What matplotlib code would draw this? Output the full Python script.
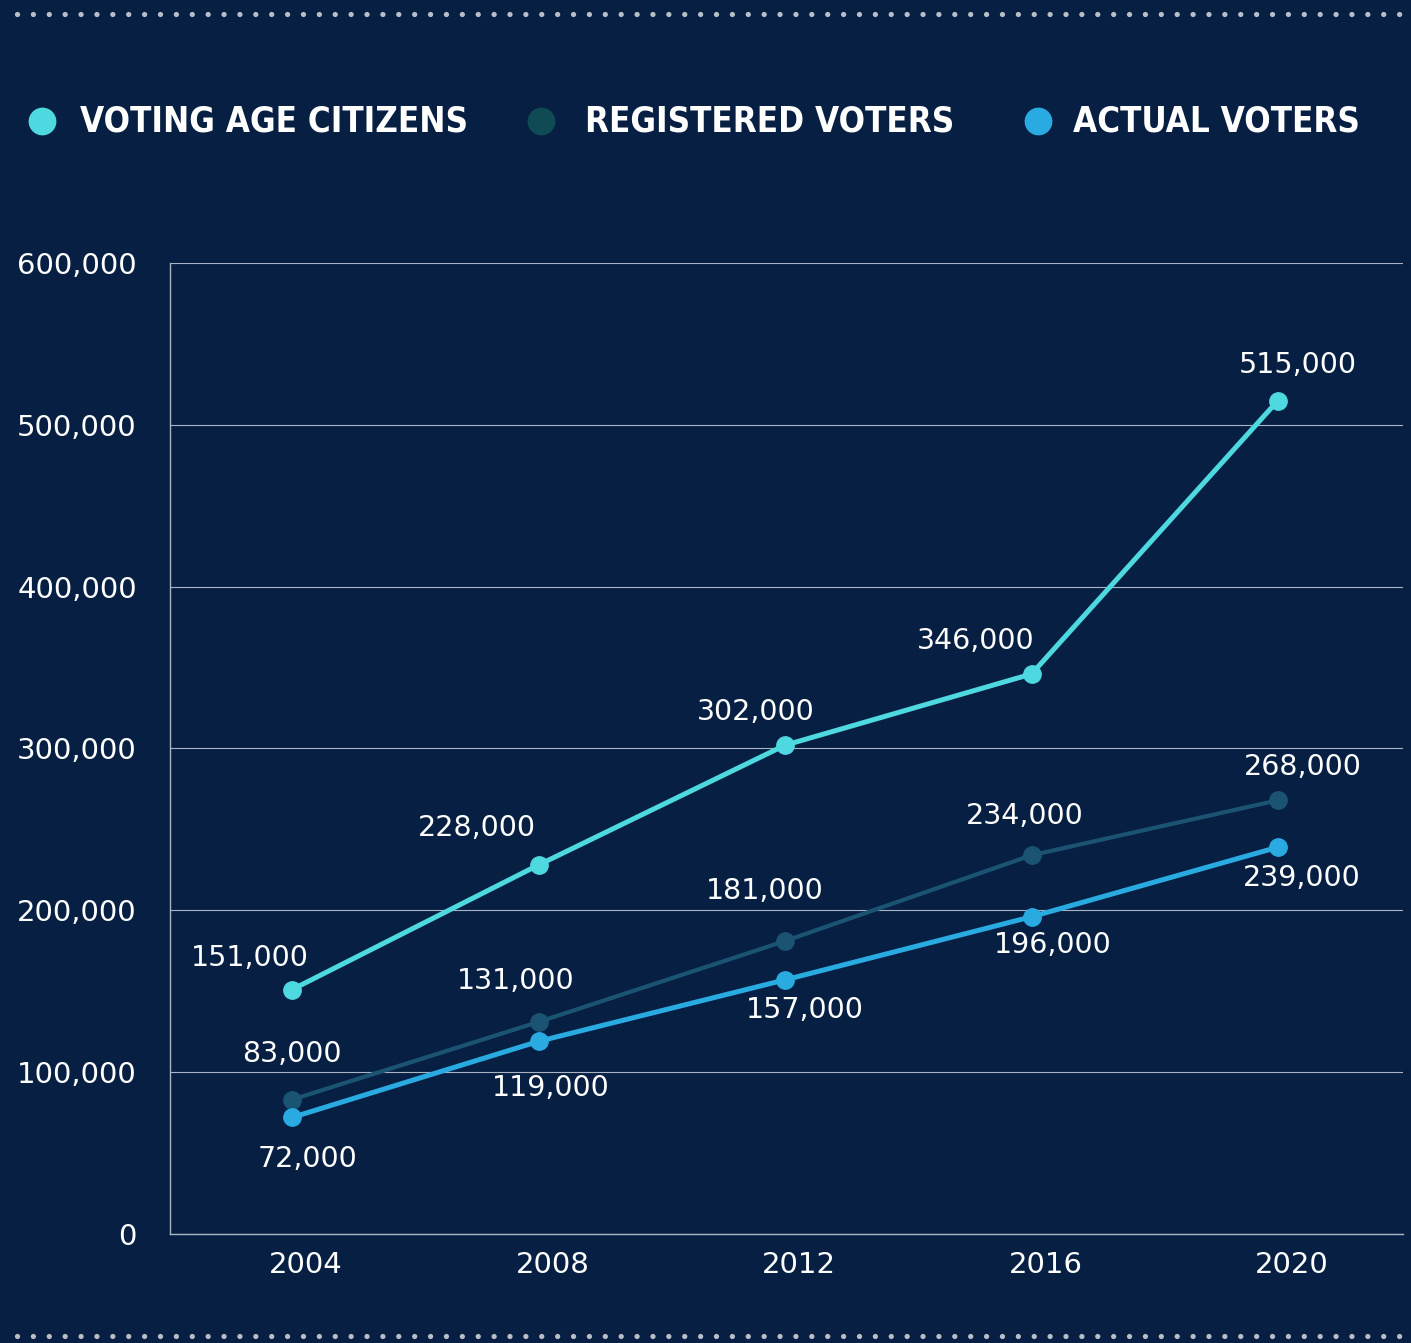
import matplotlib

matplotlib.use("Agg")
import matplotlib.pyplot as plt
import matplotlib.transforms as mtransforms
import numpy as np
from matplotlib.lines import Line2D
from matplotlib.ticker import FuncFormatter

years = ["2004", "2008", "2012", "2016", "2020"]
series_names = ["VOTING AGE CITIZENS", "REGISTERED VOTERS", "ACTUAL VOTERS"]
voting_age = [151000, 228000, 302000, 346000, 515000]
registered = [83000, 131000, 181000, 234000, 268000]
actual = [72000, 119000, 157000, 196000, 239000]

BG = "#061f42"
COLORS = ["#4ed8e0", "#1a5472", "#29abe2"]
LEGEND_COLORS = ["#4ed8e0", "#0f4a55", "#29abe2"]
GRID = "#aab4c4"

# label offsets (pixels) relative to each point
label_offsets = [
    [(-42, 32), (-62, 37), (-29, 33), (-56, 33), (20, 36)],
    [(0, 46), (-23, 41), (-20, 50), (-7, 39), (25, 33)],
    [(15, -42), (12, -47), (20, -30), (21, -28), (24, -31)],
]
# legend entry positions (figure fraction): marker x, text x
legend_x = [(0.0298, 0.0567), (0.3834, 0.4146), (0.7356, 0.7604)]
legend_y = 0.9099

fig = plt.figure(figsize=(14.11, 13.43), dpi=100, facecolor=BG)
ax = fig.add_axes([0.1205, 0.0812, 0.8738, 0.723])
ax.set_facecolor(BG)

x = np.arange(len(years))
all_series = [voting_age, registered, actual]
widths = [3.6, 3.0, 3.6]
for vals, col, lw, offs in zip(all_series, COLORS, widths, label_offsets):
    ax.plot(x, vals, color=col, lw=lw, marker="o", markersize=12.5, zorder=3)
    for xi, v, (dx, dy) in zip(x, vals, offs):
        ax.annotate(f"{v:,}", (xi, v), xytext=(dx, dy), textcoords="offset pixels",
                    ha="center", va="center", color="white", fontsize=20.5)

ax.set_xlim(-0.495, 4.507)
ax.set_ylim(0, 600000)
ax.set_yticks(np.arange(0, 600001, 100000))
ax.yaxis.set_major_formatter(FuncFormatter(lambda v, p: f"{int(v):,}"))
ax.set_xticks(x)
ax.set_xticklabels(years)
ax.grid(axis="y", color=GRID, lw=0.8)
ax.set_axisbelow(True)
ax.tick_params(length=0, colors="white", labelsize=21)
ax.tick_params(axis="y", pad=24)
ax.tick_params(axis="x", pad=12)
shift = mtransforms.ScaledTranslation(0.14, 0, fig.dpi_scale_trans)
for lab in ax.get_xticklabels():
    lab.set_transform(lab.get_transform() + shift)
for s in ["top", "right"]:
    ax.spines[s].set_visible(False)
for s in ["left", "bottom"]:
    ax.spines[s].set_color(GRID)
    ax.spines[s].set_linewidth(1.0)

# legend drawn by hand so each entry sits where the reference has it
for name, col, (mx, tx) in zip(series_names, LEGEND_COLORS, legend_x):
    fig.add_artist(Line2D([mx], [legend_y], transform=fig.transFigure, ls="none",
                          marker="o", markersize=19, color=col))
    fig.text(tx, legend_y, name, color="white", fontsize=25, fontweight="bold",
             fontstretch="condensed", ha="left", va="center")

for yy in [0.9896, 0.0052]:
    fig.add_artist(Line2D([0.012, 0.995], [yy, yy], transform=fig.transFigure,
                          color="#b8bec8", lw=3.8, ls=(0, (0.01, 3.0)),
                          dash_capstyle="round"))

fig.savefig("out.png", dpi=100, facecolor=BG)
